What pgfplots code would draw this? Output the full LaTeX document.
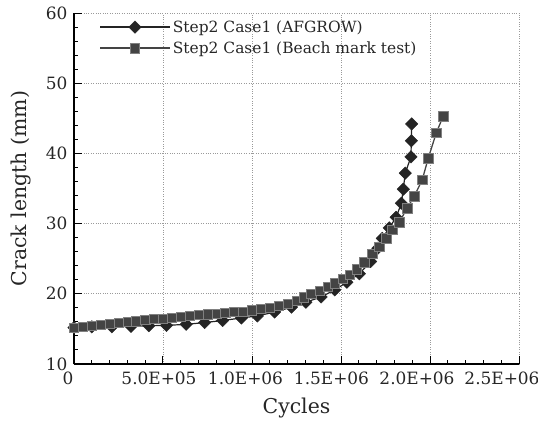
\documentclass[border=0pt]{standalone}
\usepackage{fontspec}
\setmainfont{DejaVu Serif}
\usepackage{pgfplots}
\pgfplotsset{compat=1.18}
\definecolor{afg}{HTML}{242424}
\definecolor{bmt}{HTML}{444444}
\definecolor{bmtedge}{HTML}{808080}
\definecolor{gridc}{HTML}{9A9A9A}
\begin{document}
\begin{tikzpicture}
\begin{axis}[
  scale only axis, width=445bp, height=351bp,
  xmin=0, xmax=2500000, ymin=10, ymax=60,
  axis lines=left, axis line style={-, line width=1.1bp, black},
  scaled x ticks=false,
  xtick={0,500000,1000000,1500000,2000000,2500000},
  xticklabels={{0\hspace*{12bp}},{5.0E+05\hspace*{8bp}},{1.0E+06\hspace*{13bp}},{1.5E+06\hspace*{19bp}},{2.0E+06\hspace*{26bp}},{2.5E+06\hspace*{34bp}}},
  ytick={10,20,30,40,50,60},
  minor x tick num=4, minor y tick num=4,
  tick align=inside,
  major tick length=8bp, minor tick length=4bp,
  tick style={line width=1bp, black},
  grid=major, major grid style={dotted, gridc, line width=0.8bp},
  /pgf/number format/assume math mode=true,
  ticklabel style={font=\fontsize{17}{20}\selectfont, text=black!85},
  xticklabel style={yshift=-4bp},
  yticklabel style={xshift=-3bp},
  xlabel={Cycles}, ylabel={Crack length (mm)},
  label style={font=\fontsize{20.5}{24}\selectfont, text=black!85},
  xlabel style={at={(axis description cs:0.5,0)}, anchor=center, yshift=-44bp},
  ylabel style={at={(axis description cs:-0.12,0.5)}, anchor=center},
  legend style={draw=none, fill=none, at={(axis description cs:0.056,0.985)}, anchor=north west,
    font=\fontsize{15.5}{18}\selectfont, text=black!85, row sep=4bp, inner sep=0pt,
    /tikz/every even column/.append style={column sep=9bp}},
  legend cell align=left,
  legend image code/.code={\draw[mark repeat=2,mark phase=2, line width=1.8bp] plot coordinates {(0bp,0bp)(35bp,0bp)(70bp,0bp)};},
]
\addplot[draw=afg, line width=1.2bp, mark=square*, mark size=4.4bp,
  mark options={rotate=45, fill=afg, draw=afg, line width=0.4bp, solid}] coordinates {
(0,15.17) (100000,15.3) (213000,15.3) (320000,15.35) (420000,15.45) (520000,15.5)
(630000,15.65) (734000,15.9) (835000,16.2) (940000,16.55) (1030000,16.85)
(1127000,17.4) (1222000,18.1) (1303000,18.8) (1388000,19.55) (1465000,20.55)
(1533000,21.65) (1603000,22.85) (1667000,24.6) (1707000,26.5) (1732000,27.9)
(1771000,29.4) (1810000,30.9) (1839000,32.9) (1850000,34.9) (1861000,37.2)
(1893000,39.5) (1895000,41.8) (1897000,44.2)
};
\addlegendentry{Step2 Case1 (AFGROW)}
\addplot[draw=bmt, line width=1.3bp, mark=square*, mark size=4.6bp,
  mark options={fill=bmt, draw=bmtedge, line width=0.5bp, solid}] coordinates {
(0,15.2) (50000,15.35) (100000,15.5) (150000,15.6) (200000,15.75) (250000,15.85)
(300000,16.0) (350000,16.1) (400000,16.25) (450000,16.4) (500000,16.5) (550000,16.6)
(600000,16.75) (650000,16.85) (700000,17.0) (750000,17.1) (800000,17.2) (850000,17.3)
(900000,17.4) (950000,17.5) (1000000,17.65) (1050000,17.85) (1100000,18.05)
(1150000,18.3) (1200000,18.6) (1250000,19.0) (1290000,19.5) (1333000,20.0)
(1380000,20.4) (1424000,21.0) (1465000,21.5) (1508000,22.1) (1547000,22.7)
(1587000,23.5) (1631000,24.5) (1676000,25.7) (1715000,26.7) (1754000,27.9)
(1788000,29.1) (1827000,30.2) (1872000,32.2) (1911000,33.9) (1956000,36.2)
(1990000,39.3) (2035000,42.9) (2074000,45.3)
};
\addlegendentry{Step2 Case1 (Beach mark test)}
\end{axis}
\pgfresetboundingbox
\path (-74bp,-59bp) rectangle (464bp,364bp);
\end{tikzpicture}
\end{document}
